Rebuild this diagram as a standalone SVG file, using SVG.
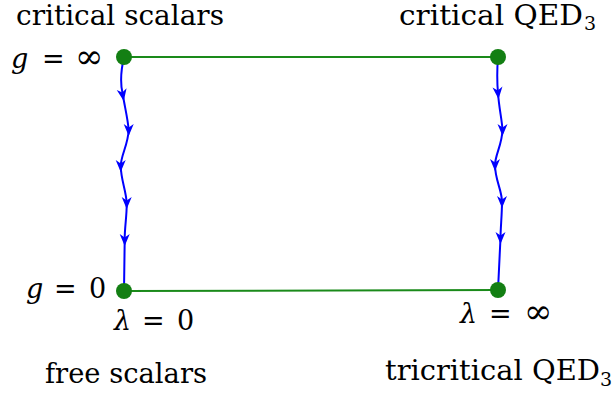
<svg xmlns="http://www.w3.org/2000/svg" width="616" height="398" viewBox="0 0 616 398">
<style>
.t{font-family:'DejaVu Serif','Liberation Serif',serif;font-size:27px;fill:#000}
.i{font-style:italic}
.sub{font-size:19px}
.edge{stroke:#1a8a1a;stroke-width:2;fill:none}
.flow{stroke:#0000ff;stroke-width:2;fill:none}
.node{fill:#137f13}
.ah{fill:#0000ff}
</style>
<defs>
<path id="arr" d="M0,6 L-5,-6 L0,-2.5 L5,-6 Z"/>
</defs>
<rect width="616" height="398" fill="#fff"/>
<g id="connectors">
<line class="edge" x1="124" y1="57" x2="498" y2="57"/>
<line class="edge" x1="124" y1="291" x2="498" y2="290"/>
<path class="flow" d="M124,57 C121,70 120,82 122.5,93 C125,108 128,120 128.7,130 C128,145 121,155 120.7,166 C121,180 126,190 126.7,203 C127,215 124.5,228 124.7,240 L124,291"/>
<g class="ah">
<use href="#arr" transform="translate(122.7,95) rotate(-10)"/>
<use href="#arr" transform="translate(128.7,130) rotate(0)"/>
<use href="#arr" transform="translate(120.7,166) rotate(0)"/>
<use href="#arr" transform="translate(126.7,203) rotate(0)"/>
<use href="#arr" transform="translate(124.7,240) rotate(0)"/>
</g>
<path class="flow" d="M498,57 C497,70 497,82 498,93 C499,108 502,120 502.5,130 C502,145 495,155 495,165 C495,180 502,190 502,202 C502,215 500.5,228 500.5,238 L498,290"/>
<g class="ah">
<use href="#arr" transform="translate(498,93) rotate(-5)"/>
<use href="#arr" transform="translate(502.5,130) rotate(0)"/>
<use href="#arr" transform="translate(495,165) rotate(0)"/>
<use href="#arr" transform="translate(502,202) rotate(0)"/>
<use href="#arr" transform="translate(500.5,238) rotate(0)"/>
</g>
</g>
<g id="critical-scalars">
<circle class="node" cx="124" cy="57" r="8"/>
<text class="t" x="16" y="25" textLength="208" lengthAdjust="spacingAndGlyphs">critical scalars</text>
<text class="t" y="68"><tspan class="i" x="11">g</tspan><tspan x="42">=</tspan><tspan x="75" font-size="34">∞</tspan></text>
</g>
<g id="critical-QED3">
<circle class="node" cx="498" cy="57" r="8"/>
<text class="t" x="399" y="25" textLength="184" lengthAdjust="spacingAndGlyphs">critical QED</text>
<text class="t sub" x="584" y="30">3</text>
</g>
<g id="free-scalars">
<circle class="node" cx="124" cy="291" r="8"/>
<text class="t" y="298"><tspan class="i" x="26">g</tspan><tspan x="54">=</tspan><tspan x="89">0</tspan></text>
<text class="t" y="330"><tspan class="i" x="114">λ</tspan><tspan x="142">=</tspan><tspan x="177">0</tspan></text>
<text class="t" x="45" y="383" textLength="162" lengthAdjust="spacingAndGlyphs">free scalars</text>
</g>
<g id="tricritical-QED3">
<circle class="node" cx="498" cy="290" r="8"/>
<text class="t" y="323"><tspan class="i" x="460">λ</tspan><tspan x="489">=</tspan><tspan x="524" font-size="34">∞</tspan></text>
<text class="t" x="385" y="380" textLength="215" lengthAdjust="spacingAndGlyphs">tricritical QED</text>
<text class="t sub" x="600" y="386">3</text>
</g>
</svg>
